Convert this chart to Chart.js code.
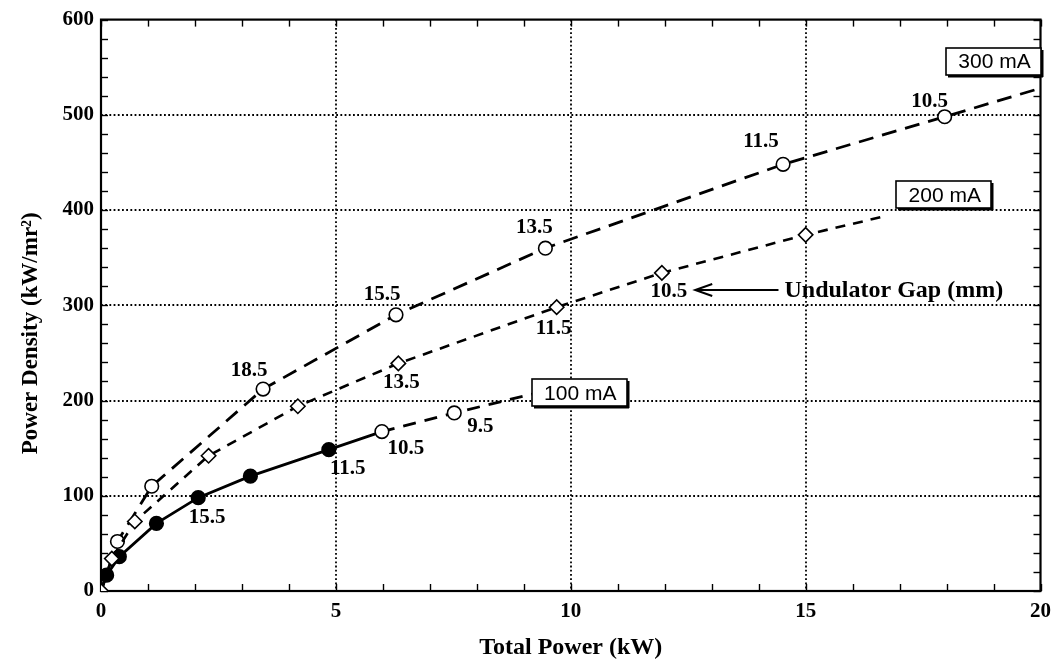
<!DOCTYPE html>
<html><head><meta charset="utf-8">
<script src="https://cdn.jsdelivr.net/npm/chart.js@4.4.1/dist/chart.umd.min.js"></script>
<style>html,body{margin:0;padding:0;background:#fff}#wrap{width:1059px;height:660px}</style>
</head><body><div id="wrap"><canvas id="c" width="1059" height="660"></canvas></div>
<script>
// ---- data ----
const xTickValues = [0, 5, 10, 15, 20];
const yTickValues = [0, 100, 200, 300, 400, 500, 600];
const xMinorStep = 1;
const yMinorStep = 20;
const xTitle = 'Total Power (kW)';
const yTitle = 'Power Density (kW/mr²)';

const power300   = [0, 0.35, 1.08, 3.45, 6.28, 9.46, 14.52, 17.96, 20];
const density300 = [0, 52, 110, 212, 290, 360, 448, 498, 528];
const gap300     = ['', '', '', '18.5', '15.5', '13.5', '11.5', '10.5', ''];

const power200   = [0, 0.23, 0.72, 2.29, 4.19, 6.33, 9.70, 11.94, 15.0, 16.64];
const density200 = [0, 34, 73, 142, 194, 239, 298, 334, 374, 393];
const gap200     = ['', '', '', '', '', '13.5', '11.5', '10.5', '', ''];

const power100   = [0, 0.12, 0.39, 1.18, 2.07, 3.18, 4.85, 5.98, 7.52, 9.2];
const density100 = [0, 16.6, 36, 71, 98, 120.6, 148.4, 167.4, 187, 207];
const gap100     = ['', '', '', '', '15.5', '', '11.5', '10.5', '9.5', ''];

const seriesNames = ['300 mA', '200 mA', '100 mA'];
// where each series' name box sits, in data units (x kW, y kW/mr²)
const nameBoxAt = [[19.0, 556], [17.94, 416], [10.18, 208]];
const noteText = 'Undulator Gap (mm)';
const noteArrowFrom = [14.55, 316];
const noteArrowTo = [12.65, 316];

// ---- layout/style (not data) ----
const SOLID_END_100 = 7;      // 100 mA: filled markers / solid line up to this index
const labelOffset300 = [null, null, null, [-14, -19], [-14, -20], [-11, -21], [-22, -23], [-15, -15], null];
const labelOffset200 = [null, null, null, null, null, [3, 19], [-3, 21], [7, 19], null, null];
const labelOffset100 = [null, null, null, null, [9, 20], null, [19, 19], [24, 17], [26, 14], null];
const Y_TITLE_X = 31, Y_TITLE_SHIFT = 28;

const SERIF = '"Liberation Serif", "Times New Roman", serif';
const SANS = '"Liberation Sans", Arial, sans-serif';

function pts(xs, ys) { return xs.map((x, i) => ({ x, y: ys[i] })); }

const decor = {
  id: 'decor',
  beforeDatasetsDraw(chart) {
    const { ctx, chartArea: a, scales: { x, y } } = chart;
    ctx.save();
    ctx.strokeStyle = '#000';
    const line = (x1, y1, x2, y2) => { ctx.beginPath(); ctx.moveTo(x1, y1); ctx.lineTo(x2, y2); ctx.stroke(); };
    // dotted major grid
    ctx.lineWidth = 1.8; ctx.setLineDash([1.8, 2.4]);
    xTickValues.forEach(v => {
      if (v === x.min || v === x.max) return;
      const px = Math.round(x.getPixelForValue(v));
      line(px, a.top, px, a.bottom);
    });
    yTickValues.forEach(v => {
      if (v === y.min || v === y.max) return;
      const py = Math.round(y.getPixelForValue(v));
      line(a.left, py, a.right, py);
    });
    ctx.setLineDash([]);
    // inner minor ticks
    ctx.lineWidth = 1.4;
    for (let v = x.min; v <= x.max; v += xMinorStep) {
      const px = Math.round(x.getPixelForValue(v)) + 0.5;
      line(px, a.bottom, px, a.bottom - 7);
      line(px, a.top, px, a.top + 7);
    }
    for (let v = y.min; v <= y.max; v += yMinorStep) {
      const py = Math.round(y.getPixelForValue(v)) + 0.5;
      line(a.left, py, a.left + 7, py);
      line(a.right, py, a.right - 7, py);
    }
    // frame
    ctx.lineWidth = 2.2;
    ctx.strokeRect(a.left, a.top, a.right - a.left, a.bottom - a.top);
    // y axis title
    ctx.save();
    ctx.translate(Y_TITLE_X, (a.top + a.bottom) / 2 + Y_TITLE_SHIFT);
    ctx.rotate(-Math.PI / 2);
    ctx.fillStyle = '#000';
    ctx.font = 'bold 23px ' + SERIF;
    ctx.textAlign = 'center'; ctx.textBaseline = 'middle';
    ctx.fillText(yTitle, 0, 0);
    ctx.restore();
    ctx.restore();
  },
  afterDatasetsDraw(chart) {
    const { ctx, scales: { x, y } } = chart;
    ctx.save();
    ctx.fillStyle = '#000';
    // gap labels
    ctx.font = 'bold 21px ' + SERIF;
    ctx.textAlign = 'center'; ctx.textBaseline = 'middle';
    const drawLabels = (xs, ys, labels, offs) => {
      labels.forEach((t, i) => {
        if (!t) return;
        const o = offs[i];
        ctx.fillText(t, x.getPixelForValue(xs[i]) + o[0], y.getPixelForValue(ys[i]) + o[1]);
      });
    };
    drawLabels(power300, density300, gap300, labelOffset300);
    drawLabels(power200, density200, gap200, labelOffset200);
    drawLabels(power100, density100, gap100, labelOffset100);
    // series name boxes
    ctx.font = '21px ' + SANS;
    seriesNames.forEach((name, i) => {
      const cx = x.getPixelForValue(nameBoxAt[i][0]);
      const cy = y.getPixelForValue(nameBoxAt[i][1]);
      const w = 95, h = 27;
      const l = Math.round(cx - w / 2), t = Math.round(cy - h / 2);
      ctx.fillStyle = '#fff';
      ctx.fillRect(l, t, w, h);
      ctx.fillStyle = '#000';
      ctx.fillRect(l + 2, t + h, w, 2.5);
      ctx.fillRect(l + w, t + 2, 2.5, h);
      ctx.lineWidth = 1.6; ctx.strokeStyle = '#000';
      ctx.strokeRect(l, t, w, h);
      ctx.fillText(name, cx + 1, cy + 1);
    });
    // arrow note
    const ax1 = x.getPixelForValue(noteArrowFrom[0]), ay = Math.round(y.getPixelForValue(noteArrowFrom[1]));
    const ax2 = x.getPixelForValue(noteArrowTo[0]);
    ctx.lineWidth = 2;
    ctx.beginPath(); ctx.moveTo(ax1 - 6, ay); ctx.lineTo(ax2 + 2, ay); ctx.stroke();
    ctx.beginPath(); ctx.moveTo(ax2 + 17, ay - 6); ctx.lineTo(ax2, ay); ctx.lineTo(ax2 + 17, ay + 6); ctx.stroke();
    ctx.font = 'bold 24px ' + SERIF;
    ctx.textAlign = 'left';
    ctx.fillText(noteText, ax1, ay + 1);
    ctx.restore();
  }
};

const lastIdx = arr => arr.length - 1;

new Chart(document.getElementById('c'), {
  type: 'scatter',
  data: {
    datasets: [
      {
        label: seriesNames[0],
        data: pts(power300, density300),
        showLine: true,
        borderColor: '#000', borderWidth: 2.8, borderDash: [15, 9],
        pointStyle: 'circle',
        pointRadius: c => (c.dataIndex === 0 || c.dataIndex === lastIdx(power300)) ? 0 : 6.8,
        pointBackgroundColor: '#fff', pointBorderColor: '#000', pointBorderWidth: 1.6,
        order: 3
      },
      {
        label: seriesNames[1],
        data: pts(power200, density200),
        showLine: true,
        borderColor: '#000', borderWidth: 2.6, borderDash: [10, 8],
        pointStyle: 'rectRot',
        pointRadius: c => (c.dataIndex === lastIdx(power200)) ? 0 : 7.2,
        pointBackgroundColor: '#fff', pointBorderColor: '#000', pointBorderWidth: 1.6,
        order: 1
      },
      {
        label: seriesNames[2],
        data: pts(power100, density100),
        showLine: true,
        borderColor: '#000', borderWidth: 2.8,
        segment: { borderDash: c => c.p0DataIndex >= SOLID_END_100 ? [13, 9] : [] },
        pointStyle: 'circle',
        pointRadius: c => (c.dataIndex === 0 || c.dataIndex === lastIdx(power100)) ? 0 : 6.8,
        pointBackgroundColor: c => c.dataIndex < SOLID_END_100 ? '#000' : '#fff',
        pointBorderColor: '#000', pointBorderWidth: 1.6,
        order: 2
      }
    ]
  },
  options: {
    responsive: false,
    devicePixelRatio: 1,
    animation: false,
    layout: { padding: { top: 14, right: 16, left: 0, bottom: 0 } },
    plugins: { legend: { display: false }, tooltip: { enabled: false } },
    scales: {
      x: {
        type: 'linear', min: 0, max: 20,
        afterBuildTicks: s => { s.ticks = xTickValues.map(v => ({ value: v })); },
        afterFit: s => { s.height = 69; },
        grid: { display: false, drawTicks: false },
        border: { display: false },
        ticks: { color: '#000', padding: 8, font: { family: SERIF, size: 21, weight: 'bold' } },
        title: { display: true, text: xTitle, color: '#000', padding: 0, font: { family: SERIF, size: 24, weight: 'bold', lineHeight: 1 } }
      },
      y: {
        type: 'linear', min: 0, max: 600,
        afterBuildTicks: s => { s.ticks = yTickValues.map(v => ({ value: v })); },
        afterFit: s => { s.width = 101; },
        grid: { display: false, drawTicks: false },
        border: { display: false },
        ticks: { color: '#000', padding: 7, font: { family: SERIF, size: 21, weight: 'bold' } },
        title: { display: false }
      }
    }
  },
  plugins: [decor]
});
</script>
</body></html>
